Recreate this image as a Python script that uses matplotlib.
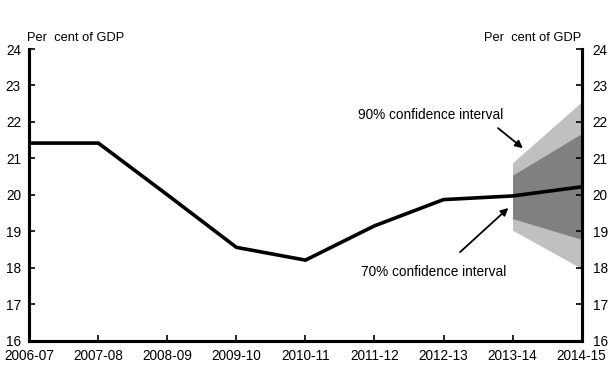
import numpy as np
import matplotlib.pyplot as plt

plt.rcParams['font.family'] = ['Liberation Sans', 'DejaVu Sans']

years = ['2006-07', '2007-08', '2008-09', '2009-10', '2010-11',
         '2011-12', '2012-13', '2013-14', '2014-15']
revenue = [21.42, 21.42, 20.0, 18.56, 18.21, 19.15, 19.87, 19.97, 20.22]

# confidence bands only over the forecast years
fan_years = ['2013-14', '2014-15']
ci90_low = [19.03, 17.98]
ci90_high = [20.88, 22.55]
ci70_low = [19.35, 18.78]
ci70_high = [20.54, 21.68]

yticks = [16, 17, 18, 19, 20, 21, 22, 23, 24]

fig = plt.figure(figsize=(6.16, 3.68), dpi=100)
ax = fig.add_axes([0.0476, 0.0742, 0.8965, 0.7926])

x = np.arange(len(years))
xf = np.array([years.index(y) for y in fan_years])

ax.fill_between(xf, ci90_low, ci90_high, color='#c0c0c0', linewidth=0, zorder=1)
ax.fill_between(xf, ci70_low, ci70_high, color='#808080', linewidth=0, zorder=2)
ax.plot(x, revenue, color='black', linewidth=2.6, solid_joinstyle='miter', zorder=3)

ax.set_xlim(0, len(years) - 1)
ax.set_ylim(16, 24)
ax.set_xticks(x)
ax.set_xticklabels(years)
ax.set_yticks(yticks)

ax2 = ax.twinx()
ax2.set_ylim(16, 24)
ax2.set_yticks(yticks)

for a in (ax, ax2):
    for side in ['left', 'right', 'bottom']:
        a.spines[side].set_linewidth(2.2)
    a.spines['top'].set_visible(False)

ax.tick_params(axis='x', direction='in', length=4, width=1.2, pad=6, labelsize=9.8)
ax.tick_params(axis='y', direction='in', length=4, width=1.2, labelsize=9.8, pad=6)
ax2.tick_params(axis='y', direction='in', length=4, width=1.2, labelsize=9.8, pad=8)

fig.text(0.044, 0.898, 'Per  cent of GDP', fontsize=9.3, ha='left', va='center')
fig.text(0.944, 0.898, 'Per  cent of GDP', fontsize=9.3, ha='right', va='center')

arrow = dict(arrowstyle='-|>', color='black', lw=1.3,
             mutation_scale=11, shrinkA=0, shrinkB=0)

ax.text(6.86, 22.18, '90% confidence interval', fontsize=9.8, ha='right', va='center')
ax.annotate('', xy=(7.15, 21.28), xytext=(6.79, 21.83), arrowprops=arrow)

ax.text(6.91, 17.88, '70% confidence interval', fontsize=9.8, ha='right', va='center')
ax.annotate('', xy=(6.94, 19.64), xytext=(6.24, 18.43), arrowprops=arrow)

fig.savefig('out.png', dpi=100)
